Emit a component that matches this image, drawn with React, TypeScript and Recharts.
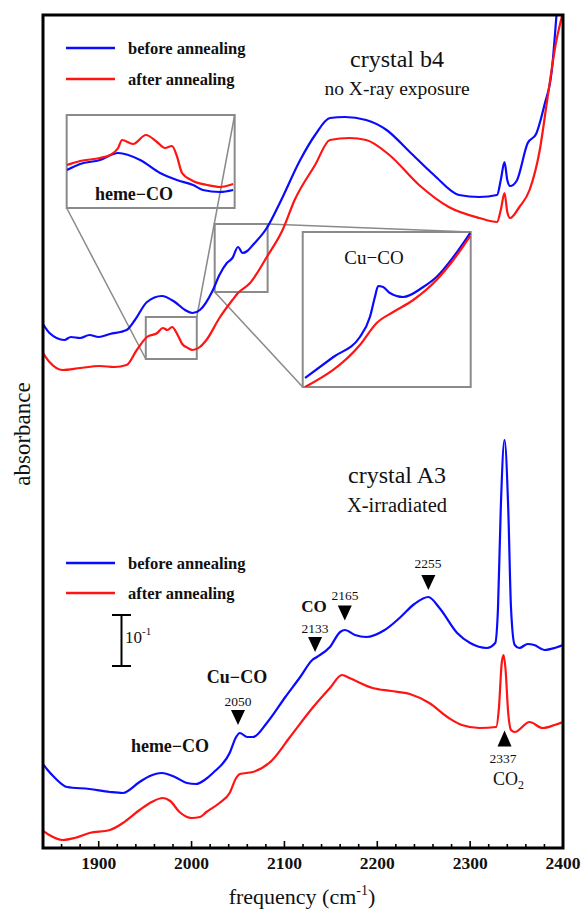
import { LineChart, Line, XAxis, YAxis, ReferenceArea, ReferenceLine, ReferenceDot } from 'recharts';

// frequency axis (cm-1)
const majorTicks = [1900, 2000, 2100, 2200, 2300, 2400];
const allTicks = [
  1860, 1880, 1900, 1920, 1940, 1960, 1980, 2000, 2020, 2040, 2060, 2080, 2100, 2120, 2140,
  2160, 2180, 2200, 2220, 2240, 2260, 2280, 2300, 2320, 2340, 2360, 2380, 2400,
];

// absorbance is in arbitrary offset units (51 units = 0.1)
// crystal b4, no X-ray exposure
const b4BeforeFreq = [1840, 1847, 1863, 1870, 1880, 1890, 1900, 1912, 1930, 1939, 1952, 1968, 1982, 1993, 2001, 2009, 2023, 2030, 2038, 2044, 2050, 2055, 2060, 2066, 2081, 2095, 2117, 2133, 2149, 2165, 2188, 2210, 2235, 2261, 2288, 2310, 2329, 2333, 2337, 2340, 2343, 2350, 2362, 2371, 2380, 2388, 2393, 2400];
const b4BeforeAbs = [524, 515, 508, 511, 510, 513, 511, 514, 518, 528, 546, 552, 546, 538, 535, 538, 558, 573, 585, 590, 601, 595, 597, 603, 620, 645, 688, 713, 730, 731, 728, 718, 696, 673, 653, 651, 653, 668, 686, 668, 662, 667, 705, 714, 743, 778, 833, 920];
const b4AfterFreq = [1840, 1847, 1861, 1880, 1901, 1917, 1930, 1941, 1952, 1963, 1969, 1974, 1979, 1985, 1990, 1996, 2001, 2009, 2016, 2030, 2044, 2050, 2063, 2081, 2098, 2111, 2133, 2149, 2170, 2188, 2213, 2245, 2277, 2310, 2329, 2333, 2337, 2340, 2343, 2353, 2364, 2375, 2383, 2392, 2400];
const b4AfterAbs = [495, 486, 478, 480, 482, 481, 483, 498, 511, 515, 520, 518, 521, 513, 504, 500, 498, 501, 508, 530, 548, 555, 565, 591, 618, 648, 683, 708, 710, 708, 693, 663, 641, 630, 626, 638, 655, 636, 630, 641, 658, 698, 748, 803, 836];

// crystal A3, X-irradiated
const a3BeforeFreq = [1840, 1845, 1853, 1866, 1890, 1912, 1926, 1944, 1955, 1968, 1982, 1995, 2005, 2014, 2023, 2041, 2048, 2052, 2060, 2066, 2081, 2101, 2117, 2130, 2135, 2149, 2160, 2165, 2176, 2188, 2208, 2224, 2240, 2255, 2267, 2286, 2300, 2318, 2327, 2330, 2333, 2337, 2341, 2344, 2348, 2353, 2362, 2369, 2380, 2391, 2400];
const a3BeforeAbs = [84, 78, 70, 61, 59, 56, 55, 66, 72, 75, 71, 65, 64, 68, 75, 95, 111, 115, 111, 111, 125, 151, 171, 188, 191, 201, 216, 218, 213, 211, 218, 230, 244, 251, 240, 215, 205, 200, 205, 240, 340, 408, 340, 240, 203, 200, 204, 203, 198, 200, 203];
const a3AfterFreq = [1840, 1845, 1861, 1874, 1890, 1912, 1926, 1944, 1957, 1969, 1977, 1987, 2000, 2009, 2016, 2030, 2041, 2048, 2052, 2066, 2087, 2106, 2131, 2149, 2162, 2170, 2195, 2215, 2235, 2256, 2277, 2291, 2310, 2328, 2331, 2334, 2336, 2338, 2341, 2344, 2348, 2364, 2378, 2391, 2400];
const a3AfterAbs = [17, 14, 8, 10, 15, 18, 25, 38, 46, 50, 47, 36, 30, 31, 36, 45, 55, 70, 74, 76, 88, 111, 141, 160, 173, 170, 160, 157, 154, 145, 130, 123, 120, 121, 140, 185, 193, 180, 135, 118, 116, 126, 120, 123, 126];

// zoomed insets (own vertical units)
const hemeBeforeFreq = [1950.7, 1955, 1961.5, 1967.4, 1974.6, 1981.1, 1986.6, 1991.9, 1995.1, 2000.7, 2005];
const hemeBeforeAbs = [38, 44, 48, 55, 48, 35, 28, 23, 18, 16, 18];
const hemeAfterFreq = [1950.7, 1955, 1961.5, 1964.8, 1967.4, 1968.7, 1972.3, 1976.5, 1980.1, 1982.7, 1985, 1986.6, 1988.3, 1991.9, 1996.4, 2000.7, 2005];
const hemeAfterAbs = [43, 47, 50, 53, 60, 68, 64, 73, 66, 60, 62, 52, 35, 27, 23, 21, 24];
const cuBeforeFreq = [2025.6, 2035.2, 2044.2, 2047.6, 2049.3, 2050.4, 2052.1, 2054.4, 2058.9, 2065.7, 2070.2, 2075.9, 2081.6];
const cuBeforeAbs = [9, 30, 50, 70, 90, 101, 100, 94, 90, 100, 110, 130, 154];
const cuAfterFreq = [2025.6, 2044.2, 2049.9, 2055.5, 2062.3, 2070.2, 2075.9, 2081.6];
const cuAfterAbs = [0, 42, 64, 75, 87, 107, 127, 151];

// peak markers
const downMarkFreq = [2050, 2133, 2165, 2255];
const downMarkAbs = [130.5, 203.5, 235, 265.5];
const upMarkFreq = [2337];
const upMarkAbs = [109.5];

const pts = (f: number[], v: number[]) => f.map((x, i) => ({ f: x, v: v[i] }));

const BLUE = '#0a0aff';
const RED = '#ff1414';
const GRAY = '#8a8a8a';
const FONT = '"Liberation Serif", "Times New Roman", serif';

function BottomTick(props: any) {
  const { x, y, payload } = props;
  const major = majorTicks.includes(payload.value);
  return (
    <g>
      <path d={`M${x},${y} V${y - (major ? 7 : 4)}`} stroke="#000" strokeWidth={1.6} fill="none" />
      {major && (
        <text x={x} y={y + 21} textAnchor="middle" fontSize={17.5} fontWeight="bold" fill="#111" fontFamily={FONT}>
          {payload.value}
        </text>
      )}
    </g>
  );
}

function TopTick(props: any) {
  const { x, y, payload } = props;
  const major = majorTicks.includes(payload.value);
  return <path d={`M${x},${y} V${y + (major ? 7 : 4)}`} stroke="#000" strokeWidth={1.6} fill="none" />;
}

const downTriangle = (p: any) => (
  <polygon points={`${p.cx - 7},${p.cy - 7.5} ${p.cx + 7},${p.cy - 7.5} ${p.cx},${p.cy + 7.5}`} fill="#000" />
);
const upTriangle = (p: any) => (
  <polygon points={`${p.cx - 7},${p.cy + 8} ${p.cx + 7},${p.cy + 8} ${p.cx},${p.cy - 8}`} fill="#000" />
);

function Inset({ left, top, width, height, domain, yMax, before, after }: any) {
  return (
    <div style={{ position: 'absolute', left, top }}>
      <LineChart width={width} height={height} margin={{ top: 0, right: 0, bottom: 0, left: 0 }}>
        <XAxis dataKey="f" type="number" domain={domain} hide allowDataOverflow />
        <YAxis type="number" domain={[0, yMax]} hide />
        <Line data={before} dataKey="v" type="monotone" stroke={BLUE} strokeWidth={2.2} dot={false} isAnimationActive={false} />
        <Line data={after} dataKey="v" type="monotone" stroke={RED} strokeWidth={2.2} dot={false} isAnimationActive={false} />
      </LineChart>
    </div>
  );
}

export default function App() {
  const grayLine = { stroke: GRAY, strokeWidth: 1.5, ifOverflow: 'visible' as const };
  const grayBox = { stroke: GRAY, strokeWidth: 2, fill: 'none', fillOpacity: 0, ifOverflow: 'visible' as const };

  return (
    <div style={{ position: 'absolute', left: 0, top: 0, width: 584, height: 909, background: '#fff', fontFamily: FONT }}>
      <LineChart width={584} height={909} margin={{ top: 15, right: 21, bottom: 31, left: 43 }}>
        <XAxis
          dataKey="f"
          type="number"
          domain={[1840, 2400]}
          ticks={allTicks}
          interval={0}
          allowDataOverflow
          height={30}
          tickSize={0}
          tickMargin={0}
          axisLine={false}
          tickLine={false}
          tick={<BottomTick />}
        />
        <XAxis
          xAxisId="top"
          orientation="top"
          dataKey="f"
          type="number"
          domain={[1840, 2400]}
          ticks={allTicks}
          interval={0}
          height={0}
          tickSize={0}
          tickMargin={0}
          axisLine={false}
          tickLine={false}
          tick={<TopTick />}
        />
        <YAxis type="number" domain={[0, 833]} hide allowDataOverflow />

        {/* source boxes and zoom connectors */}
        <ReferenceArea x1={1950.7} x2={2005.6} y1={489} y2={531} {...grayBox} />
        <ReferenceArea x1={2024.9} x2={2081.9} y1={556} y2={624} {...grayBox} />
        <ReferenceArea x1={1865.5} x2={2046.4} y1={640} y2={733} {...grayBox} />
        <ReferenceArea x1={2119.7} x2={2300.6} y1={461} y2={616} {...grayBox} />
        <ReferenceLine segment={[{ x: 1865.5, y: 640 }, { x: 1950.7, y: 489 }]} {...grayLine} />
        <ReferenceLine segment={[{ x: 2046.4, y: 733 }, { x: 2005.6, y: 531 }]} {...grayLine} />
        <ReferenceLine segment={[{ x: 2081.9, y: 624 }, { x: 2300.6, y: 616 }]} {...grayLine} />
        <ReferenceLine segment={[{ x: 2024.9, y: 556 }, { x: 2119.7, y: 461 }]} {...grayLine} />

        <Line data={pts(b4BeforeFreq, b4BeforeAbs)} dataKey="v" type="monotone" stroke={BLUE} strokeWidth={2.2} dot={false} isAnimationActive={false} />
        <Line data={pts(b4AfterFreq, b4AfterAbs)} dataKey="v" type="monotone" stroke={RED} strokeWidth={2.2} dot={false} isAnimationActive={false} />
        <Line data={pts(a3BeforeFreq, a3BeforeAbs)} dataKey="v" type="monotone" stroke={BLUE} strokeWidth={2.2} dot={false} isAnimationActive={false} />
        <Line data={pts(a3AfterFreq, a3AfterAbs)} dataKey="v" type="monotone" stroke={RED} strokeWidth={2.2} dot={false} isAnimationActive={false} />

        {downMarkFreq.map((f, i) => (
          <ReferenceDot key={f} x={f} y={downMarkAbs[i]} r={7} shape={downTriangle} ifOverflow="visible" />
        ))}
        {upMarkFreq.map((f, i) => (
          <ReferenceDot key={f} x={f} y={upMarkAbs[i]} r={7} shape={upTriangle} ifOverflow="visible" />
        ))}
      </LineChart>

      <Inset left={67} top={115} width={168} height={93} domain={[1950.7, 2005.6]} yMax={93}
        before={pts(hemeBeforeFreq, hemeBeforeAbs)} after={pts(hemeAfterFreq, hemeAfterAbs)} />
      <Inset left={303} top={232} width={168} height={155} domain={[2024.9, 2081.9]} yMax={155}
        before={pts(cuBeforeFreq, cuBeforeAbs)} after={pts(cuAfterFreq, cuAfterAbs)} />

      <svg width={584} height={909} style={{ position: 'absolute', left: 0, top: 0, pointerEvents: 'none' }} fontFamily={FONT}>
        {/* plot frame */}
        <path d="M43,15 H563 V848 H43 Z" fill="none" stroke="#000" strokeWidth={3} />

        <g fill="#111">
          {/* legends */}
          <line x1={66} x2={115} y1={48} y2={48} stroke={BLUE} strokeWidth={2.5} />
          <text x={128} y={54} fontSize={16.5} fontWeight="bold">before annealing</text>
          <line x1={66} x2={115} y1={79} y2={79} stroke={RED} strokeWidth={2.5} />
          <text x={128} y={85} fontSize={16.5} fontWeight="bold">after annealing</text>
          <line x1={66} x2={115} y1={563} y2={563} stroke={BLUE} strokeWidth={2.5} />
          <text x={128} y={569} fontSize={16.5} fontWeight="bold">before annealing</text>
          <line x1={66} x2={115} y1={593} y2={593} stroke={RED} strokeWidth={2.5} />
          <text x={128} y={599} fontSize={16.5} fontWeight="bold">after annealing</text>

          <text x={397} y={67} fontSize={24} textAnchor="middle">crystal b4</text>
          <text x={397} y={95} fontSize={19.5} textAnchor="middle">no X-ray exposure</text>
          <text x={397} y={483} fontSize={24} textAnchor="middle">crystal A3</text>
          <text x={397} y={512} fontSize={20.5} textAnchor="middle">X-irradiated</text>

          <text x={134} y={200} fontSize={18} fontWeight="bold" textAnchor="middle">heme−CO</text>
          <text x={374} y={264} fontSize={19} textAnchor="middle">Cu−CO</text>

          <text x={314} y={612} fontSize={17} fontWeight="bold" textAnchor="middle">CO</text>
          <text x={315} y={633} fontSize={13.5} textAnchor="middle">2133</text>
          <text x={345} y={600} fontSize={13.5} textAnchor="middle">2165</text>
          <text x={428} y={568} fontSize={13.5} textAnchor="middle">2255</text>
          <text x={237} y={683} fontSize={18} fontWeight="bold" textAnchor="middle">Cu−CO</text>
          <text x={238} y={706} fontSize={13.5} textAnchor="middle">2050</text>
          <text x={170} y={752} fontSize={18} fontWeight="bold" textAnchor="middle">heme−CO</text>
          <text x={503} y={763} fontSize={13.5} textAnchor="middle">2337</text>
          <text x={493} y={785} fontSize={18}>CO<tspan dy={4} fontSize={12}>2</tspan></text>

          {/* 0.1 absorbance scale bar */}
          <line x1={121.5} x2={121.5} y1={615} y2={666} stroke="#000" strokeWidth={2} />
          <line x1={112} x2={131} y1={615} y2={615} stroke="#000" strokeWidth={2} />
          <line x1={112} x2={131} y1={666} y2={666} stroke="#000" strokeWidth={2} />
          <text x={125} y={643} fontSize={17}>10<tspan dy={-8} fontSize={11}>-1</tspan></text>

          <text x={30} y={434} fontSize={23} textAnchor="middle" transform="rotate(-90 30 434)">absorbance</text>
          <text x={302} y={904} fontSize={22} textAnchor="middle">
            frequency (cm<tspan dy={-9} fontSize={14}>-1</tspan><tspan dy={9}>)</tspan>
          </text>
        </g>
      </svg>
    </div>
  );
}
